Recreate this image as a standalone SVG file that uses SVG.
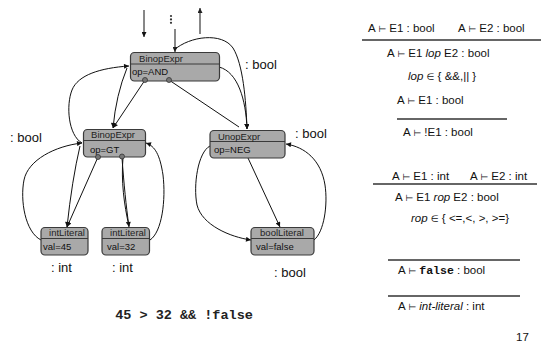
<svg xmlns="http://www.w3.org/2000/svg" width="542" height="352" viewBox="0 0 542 352">
<style>
.box{fill:#a9a9a9;stroke:#3a3a3a;stroke-width:1.2}
.div{stroke:#3a3a3a;stroke-width:1}
.hd{font-family:"Liberation Sans",Arial,sans-serif;font-size:9.5px;fill:#222;text-anchor:middle}
.bd{font-family:"Liberation Sans",Arial,sans-serif;font-size:9.5px;fill:#111}
.pin{fill:#777;stroke:#333;stroke-width:0.8}
.c{fill:none;stroke:#111;stroke-width:1}
.ca{fill:none;stroke:#111;stroke-width:1;marker-end:url(#ah)}
.cg{fill:none;stroke:#555;stroke-width:1.4;marker-end:url(#ahg)}
.lbl{font-family:"Liberation Sans",Arial,sans-serif;font-size:13px;fill:#111}
.f{font-family:"Liberation Sans","DejaVu Sans",Arial,sans-serif;font-size:11.5px;fill:#111}
.t{font-size:9px}
.mono{font-family:"Liberation Mono","Courier New",monospace;font-weight:bold}
.rule{stroke:#333;stroke-width:1.3}
</style>
<defs>
<marker id="ah" viewBox="0 0 6 6" refX="6" refY="3" markerWidth="6" markerHeight="5" markerUnits="userSpaceOnUse" orient="auto">
<path d="M0,0 L6,3 L0,6 z" fill="#111"/>
</marker>
<marker id="ahg" viewBox="0 0 6 6" refX="6" refY="3" markerWidth="6" markerHeight="5" markerUnits="userSpaceOnUse" orient="auto">
<path d="M0,0 L6,3 L0,6 z" fill="#222"/>
</marker>
</defs>

<g id="connectors">
<path class="ca" d="M144,10 L144,37"/>
<circle cx="171" cy="16" r="1.1" fill="#333"/>
<circle cx="171" cy="19.4" r="1.1" fill="#333"/>
<circle cx="171" cy="22.8" r="1.1" fill="#333"/>
<path class="cg" d="M175,29 L175,52"/>
<path class="cg" d="M200,34 L200,8"/>
<path class="ca" d="M174,50 C190,36 222,32 233,48 C243,64 246,100 247,129"/>
<path class="ca" d="M219,67 C238,72 246,100 247,129"/>
<path class="c" d="M169,80 L239,127"/>
<path class="ca" d="M127,68 Q116,95 113,128"/>
<path class="ca" d="M145,80 L113,128"/>
<path class="ca" d="M82,143 C68,135 66,105 72,90 C78,75 100,68 129,66"/>
<path class="ca" d="M80,146 Q72,180 67,227"/>
<path class="ca" d="M98,157 L67,227"/>
<path class="ca" d="M41,240 C25,232 20,200 24,180 C28,160 55,146 82,143"/>
<path class="ca" d="M122,158 C124,185 126,205 129,227"/>
<path class="c" d="M123,158 C121,180 124,205 129,226"/>
<path class="ca" d="M150,240 C162,232 166,200 163,175 C160,155 155,146 146,143"/>
<path class="ca" d="M248,158 L280,227"/>
<path class="ca" d="M210,146 C198,152 193,185 197,205 C202,225 230,237 251,240"/>
<path class="ca" d="M314,240 C324,232 328,205 325,185 C321,160 305,147 286,144"/>
</g>

<g id="n-and">
<rect class="box" x="130.5" y="52.5" width="89" height="28.5" rx="4"/>
<line class="div" x1="130.5" y1="64" x2="219.5" y2="64"/>
<text class="hd" x="161" y="62">BinopExpr</text>
<text class="bd" x="132" y="75">op=AND</text>
<circle class="pin" cx="145" cy="80" r="2.5"/>
<circle class="pin" cx="169" cy="80" r="2.5"/>
</g>

<g id="n-gt">
<rect class="box" x="83.5" y="129.5" width="62" height="27.5" rx="4"/>
<line class="div" x1="83.5" y1="140.5" x2="145.5" y2="140.5"/>
<text class="hd" x="113" y="138">BinopExpr</text>
<text class="bd" x="90" y="153">op=GT</text>
<circle class="pin" cx="98" cy="157" r="2.5"/>
<circle class="pin" cx="122" cy="156.5" r="2.5"/>
</g>

<g id="n-neg">
<rect class="box" x="210" y="130.5" width="75" height="27.5" rx="4"/>
<line class="div" x1="210" y1="141.5" x2="285" y2="141.5"/>
<text class="hd" x="239" y="139.5">UnopExpr</text>
<text class="bd" x="214" y="153">op=NEG</text>
</g>

<g id="n-int45">
<rect class="box" x="41" y="227.5" width="47" height="27.5" rx="4"/>
<line class="div" x1="41" y1="238.5" x2="88" y2="238.5"/>
<text class="hd" x="67" y="236">intLiteral</text>
<text class="bd" x="43" y="250">val=45</text>
</g>

<g id="n-int32">
<rect class="box" x="102" y="227.5" width="47.5" height="27.5" rx="4"/>
<line class="div" x1="102" y1="238.5" x2="149.5" y2="238.5"/>
<text class="hd" x="128" y="236">intLiteral</text>
<text class="bd" x="107" y="250">val=32</text>
</g>

<g id="n-bool">
<rect class="box" x="251" y="227.5" width="63" height="27.5" rx="4"/>
<line class="div" x1="251" y1="238.5" x2="314" y2="238.5"/>
<text class="hd" x="282" y="236">boolLiteral</text>
<text class="bd" x="256" y="250">val=false</text>
</g>

<g id="labels">
<text class="lbl" x="245" y="69">: bool</text>
<text class="lbl" x="10" y="142">: bool</text>
<text class="lbl" x="295" y="138">: bool</text>
<text class="lbl" x="51" y="272">: int</text>
<text class="lbl" x="112" y="272">: int</text>
<text class="lbl" x="274" y="277">: bool</text>
<text class="mono" x="184" y="319" font-size="13.5" text-anchor="middle" fill="#222">45 &gt; 32 &amp;&amp; !false</text>
</g>

<g id="rules">
<text class="f" x="368" y="32">A <tspan class="t">⊢</tspan> E1 : bool</text>
<text class="f" x="458" y="32">A <tspan class="t">⊢</tspan> E2 : bool</text>
<line class="rule" x1="362" y1="40" x2="541" y2="40"/>
<text class="f" x="387" y="57">A <tspan class="t">⊢</tspan> E1 <tspan font-style="italic">lop</tspan> E2 : bool</text>
<text class="f" x="408" y="80"><tspan font-style="italic">lop</tspan> <tspan class="t">∈</tspan> { &amp;&amp;,|| }</text>
<text class="f" x="397" y="104">A <tspan class="t">⊢</tspan> E1 : bool</text>
<line class="rule" x1="397" y1="119" x2="507" y2="119"/>
<text class="f" x="403" y="136">A <tspan class="t">⊢</tspan> !E1 : bool</text>
<text class="f" x="392" y="180">A <tspan class="t">⊢</tspan> E1 : int</text>
<text class="f" x="470" y="180">A <tspan class="t">⊢</tspan> E2 : int</text>
<line class="rule" x1="373" y1="184" x2="537" y2="184"/>
<text class="f" x="395" y="201">A <tspan class="t">⊢</tspan> E1 <tspan font-style="italic">rop</tspan> E2 : bool</text>
<text class="f" x="411" y="222"><tspan font-style="italic">rop</tspan> <tspan class="t">∈</tspan> { &lt;=,&lt;, &gt;, &gt;=}</text>
<line class="rule" x1="388" y1="260" x2="520" y2="260"/>
<text class="f" x="398" y="274">A <tspan class="t">⊢</tspan> <tspan class="mono" font-size="11.5">false</tspan> : bool</text>
<line class="rule" x1="388" y1="296" x2="520" y2="296"/>
<text class="f" x="398" y="310">A <tspan class="t">⊢</tspan> <tspan font-style="italic">int-literal</tspan> : int</text>
<text class="f" x="516" y="341" font-size="10">17</text>
</g>
</svg>
